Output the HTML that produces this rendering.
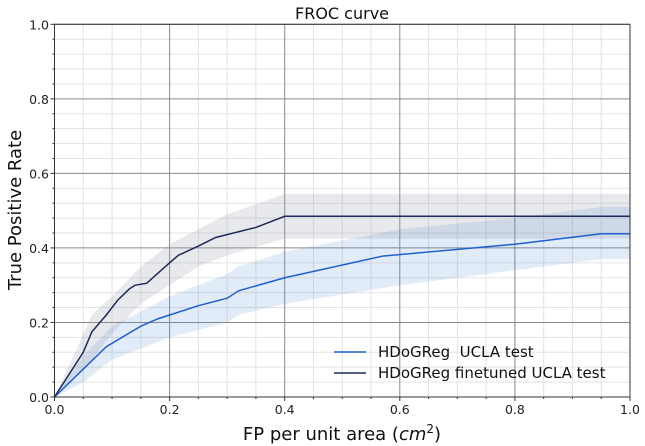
<!DOCTYPE html>
<html><head><meta charset="utf-8"><style>
body{margin:0;background:#fff;}
svg{display:block;font-family:"DejaVu Sans","Liberation Sans",sans-serif;}
</style></head><body>
<svg id="chart" width="645" height="446"></svg>
<script>
const xTicks=[0,0.2,0.4,0.6,0.8,1.0];
const yTicks=[0,0.2,0.4,0.6,0.8,1.0];
const baseX=[0,0.05,0.09,0.15,0.18,0.25,0.3,0.32,0.4,0.57,0.8,0.95,1];
const baseY=[0,0.075,0.135,0.19,0.21,0.245,0.265,0.285,0.32,0.378,0.41,0.438,0.438];
const baseBandX=[0,0.05,0.1,0.2,0.3,0.32,0.4,0.6,0.8,0.95,1];
const baseUpper=[0,0.11,0.19,0.27,0.33,0.35,0.39,0.45,0.48,0.51,0.51];
const baseLower=[0,0.04,0.1,0.16,0.2,0.22,0.25,0.3,0.34,0.37,0.37];
const ftX=[0,0.025,0.05,0.065,0.09,0.11,0.13,0.14,0.16,0.2,0.215,0.25,0.28,0.35,0.4,1];
const ftY=[0,0.06,0.12,0.175,0.22,0.26,0.29,0.30,0.305,0.36,0.38,0.405,0.428,0.455,0.485,0.485];
const ftBandX=[0,0.03,0.065,0.1,0.15,0.2,0.25,0.3,0.4,1];
const ftUpper=[0,0.1,0.22,0.27,0.35,0.41,0.45,0.49,0.545,0.545];
const ftLower=[0,0.05,0.1,0.17,0.25,0.3,0.35,0.38,0.425,0.425];

const X0=54.5,X1=630,Y0=397,Y1=24.3;
const sx=v=>X0+(X1-X0)*v, sy=v=>Y0-(Y0-Y1)*v;
const svg=document.getElementById('chart');
const NS='http://www.w3.org/2000/svg';
function mk(tag,attrs,parent){const e=document.createElementNS(NS,tag);for(const k in attrs)e.setAttribute(k,attrs[k]);(parent||svg).appendChild(e);return e;}

for(let i=1;i<20;i++){const v=i*0.05;if(i%4===0)continue;
 const g=mk('line',{x1:sx(v),x2:sx(v),y1:Y0,y2:Y1,stroke:'#e3e3e3','stroke-width':1});
 
 
 mk('line',{x1:sx(v),x2:sx(v),y1:Y0,y2:Y0+2,stroke:'#333'});}
for(let i=1;i<25;i++){const v=i*0.04;if(i%5===0)continue;
 const g=mk('line',{x1:X0,x2:X1,y1:sy(v),y2:sy(v),stroke:'#e3e3e3','stroke-width':1});
 
 
 mk('line',{x1:X0-2,x2:X0,y1:sy(v),y2:sy(v),stroke:'#333'});}
xTicks.forEach(v=>{const g=mk('line',{x1:sx(v),x2:sx(v),y1:Y0,y2:Y1,stroke:'#8a8a8a','stroke-width':1});
 
 });
yTicks.forEach(v=>{const g=mk('line',{x1:X0,x2:X1,y1:sy(v),y2:sy(v),stroke:'#8a8a8a','stroke-width':1});
 
 });

function band(xs,up,lo,fill,name){
 let d='M'+xs.map((x,i)=>sx(x)+','+sy(up[i])).join('L');
 for(let i=xs.length-1;i>=0;i--)d+='L'+sx(xs[i])+','+sy(lo[i]);
 const p=mk('path',{d:d+'Z',fill:fill});
 
 }
function line(xs,ys,col,name){
 const p=mk('path',{d:'M'+xs.map((x,i)=>sx(x)+','+sy(ys[i])).join('L'),fill:'none',stroke:col,'stroke-width':1.5});
 
 }
band(ftBandX,ftUpper,ftLower,'rgba(150,155,170,0.22)','finetuned-confidence-band');
band(baseBandX,baseUpper,baseLower,'rgba(60,120,210,0.15)','baseline-confidence-band');
line(baseX,baseY,'#1f5fcf','baseline-series-line');
line(ftX,ftY,'#1c2a5c','finetuned-series-line');

const fr=mk('rect',{x:X0,y:Y1,width:X1-X0,height:Y0-Y1,fill:'none',stroke:'#333','stroke-width':1});



xTicks.forEach(v=>{const t=mk('text',{x:sx(v),y:414,'font-size':12.5,'text-anchor':'middle',fill:'#222'});t.textContent=v.toFixed(1);
 
 
 mk('line',{x1:sx(v),x2:sx(v),y1:Y0,y2:Y0+4,stroke:'#333'});});
yTicks.forEach(v=>{const t=mk('text',{x:49,y:sy(v)+5,'font-size':12.5,'text-anchor':'end',fill:'#222'});t.textContent=v.toFixed(1);
 
 
 mk('line',{x1:X0-4,x2:X0,y1:sy(v),y2:sy(v),stroke:'#333'});});
</script>
<svg style="position:absolute;left:0;top:0" width="645" height="446">
<text x="342" y="19" font-size="16" text-anchor="middle" font-family="DejaVu Sans,sans-serif" fill="#111">FROC curve</text>
<text x="342" y="440" font-size="18" text-anchor="middle" font-family="DejaVu Sans,sans-serif" fill="#111">FP per unit area (<tspan font-style="italic">cm</tspan><tspan font-size="12" dy="-7">2</tspan><tspan dy="7">)</tspan></text>
<text x="21" y="210" font-size="18" text-anchor="middle" font-family="DejaVu Sans,sans-serif" fill="#111" transform="rotate(-90 21 210)">True Positive Rate</text>
<g font-family="DejaVu Sans,sans-serif" font-size="15" fill="#111">
<line x1="334" x2="366" y1="352" y2="352" stroke="#1f5fcf" stroke-width="1.5"/>
<text x="378" y="357">HDoGReg&#160; UCLA test</text>
<line x1="334" x2="366" y1="373" y2="373" stroke="#1c2a5c" stroke-width="1.5"/>
<text x="378" y="378">HDoGReg finetuned UCLA test</text>
</g>
</svg>
</body></html>
